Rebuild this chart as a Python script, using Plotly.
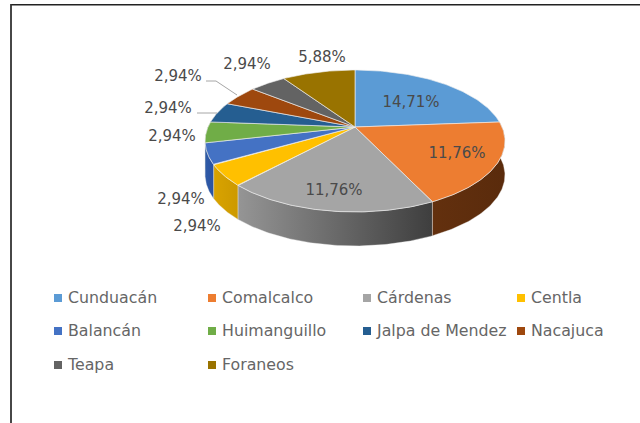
import numpy as np
import plotly.graph_objects as go

categories = ["Cunduacán", "Comalcalco", "Cárdenas", "Centla", "Balancán",
              "Huimanguillo", "Jalpa de Mendez", "Nacajuca", "Teapa", "Foraneos"]
values = [14.71, 11.76, 11.76, 2.94, 2.94, 2.94, 2.94, 2.94, 2.94, 5.88]
top_colors = ["#5B9BD5", "#ED7D31", "#A5A5A5", "#FFC000", "#4472C4",
              "#70AD47", "#255E91", "#9E480E", "#636363", "#997300"]
side_left = ["#3A6A96", "#63300E", "#959595", "#D9A300", "#2F5BA8",
             "#4B7A2E", "#1A4466", "#6B3009", "#444444", "#6A5000"]
side_right = ["#3A6A96", "#5A2B0C", "#3E3E3E", "#CC9900", "#2A52A0",
              "#4B7A2E", "#1A4466", "#6B3009", "#444444", "#6A5000"]
label_x = [411, 457, 334, 197, 181, 172, 168, 178, 247, 322]
label_y = [103.5, 154.5, 191.5, 227.5, 200.5, 137.5, 109.5, 77.5, 65.5, 58.5]
legend_x = [58, 212, 367, 521, 58, 212, 367, 521, 58, 212]
legend_y = [298, 298, 298, 298, 331, 331, 331, 331, 365, 365]

CX, CY, RX, RY, K, DEPTH = 355, 127, 147, 68.2, 0.197, 34


def rim(t):
    u, v = np.sin(t), np.cos(t)
    w = 1 + K * v
    return CX + RX * u / w, CY - RY * v / w


cum = np.concatenate([[0], np.cumsum(values)]) / sum(values) * 2 * np.pi
fig = go.Figure()

# side walls, drawn first, only the front half is visible
for i in [7, 8, 9, 0, 6, 5, 4, 3, 2, 1]:
    a, b = cum[i], cum[i + 1]
    if b < np.pi / 2 or a > 1.55 * np.pi:
        continue
    t = np.linspace(a, b, 80)
    x, y = rim(t)
    px = np.concatenate([x, x[::-1]])
    py = np.concatenate([y, y[::-1] + DEPTH])
    px = np.append(px, px[0])
    py = np.append(py, py[0])
    fig.add_trace(go.Scatter(
        x=px, y=py, mode="lines", fill="toself",
        line=dict(color="rgba(235,235,235,0.55)", width=0.7),
        fillgradient=dict(type="horizontal",
                          colorscale=[[0, side_left[i]], [1, side_right[i]]]),
        hoverinfo="skip", showlegend=False))

# top faces
for i in range(len(values)):
    t = np.linspace(cum[i], cum[i + 1], 80)
    x, y = rim(t)
    fig.add_trace(go.Scatter(
        x=np.concatenate([[CX], x, [CX]]), y=np.concatenate([[CY], y, [CY]]),
        mode="lines", fill="toself", fillcolor=top_colors[i],
        line=dict(color="rgba(240,240,240,0.8)", width=0.8),
        name=categories[i], hoverinfo="skip", showlegend=False))

# leader lines
for lx, ly in [([206, 216, 237], [81, 81, 95]), ([197, 217], [113, 113])]:
    fig.add_trace(go.Scatter(x=lx, y=ly, mode="lines",
                             line=dict(color="#A6A6A6", width=1),
                             hoverinfo="skip", showlegend=False))

# data labels
fig.add_trace(go.Scatter(
    x=label_x, y=label_y, mode="text",
    text=[f"{v:.2f}%".replace(".", ",") for v in values],
    textposition="middle center",
    textfont=dict(family="DejaVu Sans", size=15, color="#4A4A4A"),
    hoverinfo="skip", showlegend=False))

# legend keys and entries
fig.add_trace(go.Scatter(
    x=legend_x, y=legend_y, mode="markers",
    marker=dict(symbol="square", size=8, color=top_colors),
    hoverinfo="skip", showlegend=False))
fig.add_trace(go.Scatter(
    x=[v + 10 for v in legend_x], y=[v + 1.5 for v in legend_y], mode="text",
    text=categories, textposition="middle right",
    textfont=dict(family="DejaVu Sans", size=15.8, color="#666666"),
    hoverinfo="skip", showlegend=False))

fig.update_layout(
    width=640, height=423, margin=dict(l=0, r=0, t=0, b=0),
    paper_bgcolor="white", plot_bgcolor="white", showlegend=False,
    xaxis=dict(range=[0, 640], visible=False, fixedrange=True),
    yaxis=dict(range=[423, 0], visible=False, fixedrange=True),
    shapes=[dict(type="line", xref="x", yref="y", x0=11, x1=640, y0=4.8, y1=4.8,
                 line=dict(color="#222222", width=1.6)),
            dict(type="line", xref="x", yref="y", x0=11, x1=11, y0=4, y1=423,
                 line=dict(color="#333333", width=1.8))])

fig.write_html("out.html", config={"displayModeBar": False},
               post_script="document.body.style.margin='0';document.body.style.overflow='hidden';")
